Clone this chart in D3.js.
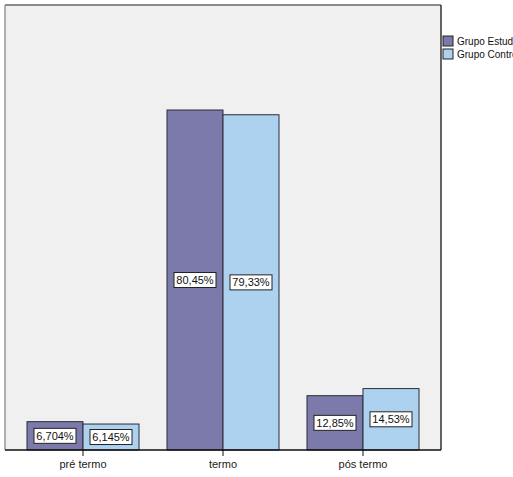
<!DOCTYPE html>
<html>
<head>
<meta charset="utf-8">
<script src="https://cdnjs.cloudflare.com/ajax/libs/d3/7.8.5/d3.min.js"></script>
<style>
  body { margin: 0; background: #fff; overflow: hidden; }
  svg { display: block; font-family: "Liberation Sans", Arial, sans-serif; }
</style>
</head>
<body>
<svg id="chart"></svg>
<script>
/* données */
const categories = ['pré termo', 'termo', 'pós termo']
const groups = ['Grupo Estudo', 'Grupo Controle']
const estudo = [6.704, 80.45, 12.85]
const controle = [6.145, 79.33, 14.53]
const colors = ['#7b7aaa', '#acd2ef']

const width = 513, height = 477
const plot = {left: 5, top: 5, right: 441, bottom: 450}

const svg = d3.select('#chart').attr('width', width).attr('height', height)

const rows = categories.map((c, i) => ({cat: c, values: [estudo[i], controle[i]]}))

/* échelles */
const xScale = d3.scaleBand()
  .domain(categories)
  .range([13, 433])
  .paddingInner(0.2)
  .paddingOuter(0.1)

const xInner = d3.scaleBand()
  .domain(groups)
  .range([0, xScale.bandwidth()])

const yScale = d3.scaleLinear()
  .domain([0, 105.3])
  .range([plot.bottom, plot.top])

const fmt = v => d3.format('.4r')(v).replace('.', ',') + '%'

/* fond du graphique */
svg.append('rect')
  .attr('x', plot.left).attr('y', plot.top)
  .attr('width', plot.right - plot.left).attr('height', plot.bottom - plot.top)
  .attr('fill', '#f0f0f0')

/* barres */
const g = svg.selectAll('g.cat')
  .data(rows)
  .enter().append('g')
  .attr('class', 'cat')
  .attr('transform', d => 'translate(' + xScale(d.cat) + ',0)')

g.selectAll('rect')
  .data(d => d.values.map((v, j) => ({g: groups[j], v: v, j: j})))
  .enter().append('rect')
  .attr('x', d => xInner(d.g))
  .attr('y', d => yScale(d.v))
  .attr('width', xInner.bandwidth())
  .attr('height', d => yScale(0) - yScale(d.v))
  .attr('fill', d => colors[d.j])
  .attr('stroke', '#2b2b3a')
  .attr('stroke-width', 1)

/* étiquettes des valeurs */
const lab = g.selectAll('g.lab')
  .data(d => d.values.map((v, j) => ({g: groups[j], v: v, j: j})))
  .enter().append('g')
  .attr('class', 'lab')
  .attr('transform', d => 'translate(' + (xInner(d.g) + xInner.bandwidth() / 2) + ',' +
        ((yScale(d.v) + yScale(0)) / 2) + ')')

lab.append('rect')
  .attr('x', -21).attr('y', -7.5)
  .attr('width', 42).attr('height', 15)
  .attr('fill', '#fff')
  .attr('stroke', '#222')
  .attr('stroke-width', 1)

lab.append('text')
  .attr('text-anchor', 'middle')
  .attr('dy', '0.35em')
  .style('font-size', '11px')
  .attr('fill', '#111')
  .text(d => fmt(d.v))

/* cadre */
svg.append('line')
  .attr('x1', plot.left).attr('x2', plot.right)
  .attr('y1', plot.top).attr('y2', plot.top)
  .attr('stroke', '#8a8a8a').attr('stroke-width', 2)
svg.append('line')
  .attr('x1', plot.left).attr('x2', plot.left)
  .attr('y1', plot.top).attr('y2', plot.bottom)
  .attr('stroke', '#999').attr('stroke-width', 1.5)
svg.append('line')
  .attr('x1', plot.right).attr('x2', plot.right)
  .attr('y1', plot.top).attr('y2', plot.bottom)
  .attr('stroke', '#333').attr('stroke-width', 1.5)

/* axe des x */
const xAxis = d3.axisBottom(xScale).tickSize(6).tickPadding(4)
const ax = svg.append('g')
  .attr('transform', 'translate(0,' + plot.bottom + ')')
  .call(xAxis)
ax.select('.domain').remove()
ax.append('line')
  .attr('x1', plot.left).attr('x2', plot.right)
  .attr('stroke', '#111').attr('stroke-width', 1.5)
ax.selectAll('.tick line').attr('stroke', '#111')
ax.selectAll('.tick text')
  .style('font-size', '11px')
  .style('font-family', '"Liberation Sans", Arial, sans-serif')
  .attr('fill', '#222')

/* légende */
const leg = svg.selectAll('g.leg')
  .data(groups)
  .enter().append('g')
  .attr('class', 'leg')
  .attr('transform', (d, i) => 'translate(443,' + (36 + i * 13) + ')')

leg.append('rect')
  .attr('width', 10).attr('height', 10)
  .attr('fill', (d, i) => colors[i])
  .attr('stroke', '#222')

leg.append('text')
  .attr('x', 14).attr('y', 5).attr('dy', '0.35em')
  .style('font-size', '10px')
  .attr('fill', '#111')
  .text(d => d)
</script>
</body>
</html>
